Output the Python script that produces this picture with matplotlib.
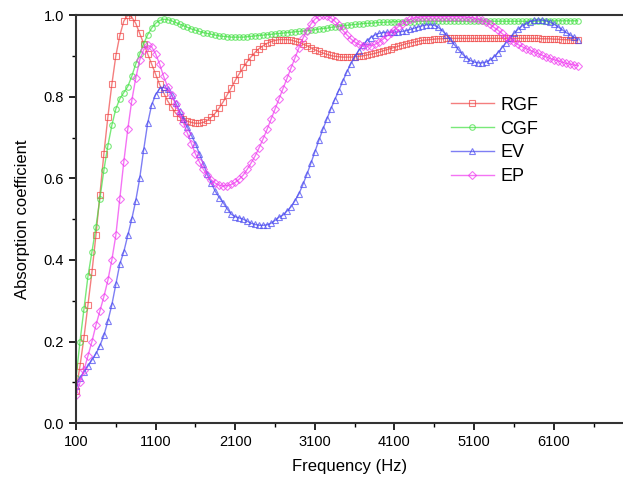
import matplotlib as mpl
import matplotlib.pyplot as plt
import numpy as np

mpl.rcParams['font.family'] = 'Liberation Sans'

# frequency (Hz), 50 Hz step from 100 to 6400
freq = np.arange(100, 6401, 50)

rgf = [0.08, 0.14, 0.21, 0.29, 0.37, 0.46, 0.56, 0.66, 0.75, 0.83,
       0.90, 0.95, 0.985, 1.0, 0.995, 0.98, 0.955, 0.93, 0.905, 0.88,
       0.855, 0.83, 0.81, 0.79, 0.775, 0.76, 0.75, 0.745, 0.74, 0.737,
       0.735, 0.735, 0.737, 0.742, 0.75, 0.76, 0.773, 0.788, 0.805, 0.822,
       0.84, 0.856, 0.872, 0.886, 0.898, 0.909, 0.918, 0.925, 0.931, 0.935,
       0.938, 0.94, 0.94, 0.94, 0.939, 0.936, 0.933, 0.929, 0.925, 0.92,
       0.915, 0.911, 0.907, 0.904, 0.901, 0.899, 0.898, 0.897, 0.897, 0.897,
       0.898, 0.899, 0.90, 0.902, 0.904, 0.906, 0.909, 0.912, 0.915, 0.918,
       0.921, 0.924, 0.927, 0.93, 0.932, 0.934, 0.936, 0.938, 0.939, 0.94,
       0.941, 0.942, 0.942, 0.943, 0.943, 0.943, 0.943, 0.943, 0.943, 0.943,
       0.943, 0.943, 0.943, 0.943, 0.943, 0.943, 0.943, 0.943, 0.943, 0.943,
       0.943, 0.943, 0.943, 0.943, 0.943, 0.943, 0.943, 0.942, 0.942, 0.942,
       0.941, 0.941, 0.94, 0.94, 0.939, 0.939, 0.938]

cgf = [0.11, 0.20, 0.28, 0.36, 0.42, 0.48, 0.55, 0.62, 0.68, 0.73,
       0.77, 0.795, 0.81, 0.825, 0.85, 0.88, 0.905, 0.93, 0.952, 0.968,
       0.98, 0.987, 0.99, 0.989, 0.986, 0.982, 0.978, 0.974, 0.97, 0.966,
       0.963, 0.96, 0.957, 0.955, 0.953, 0.951, 0.949, 0.948, 0.947, 0.946,
       0.946, 0.946, 0.946, 0.947, 0.948, 0.949, 0.95, 0.951, 0.952, 0.953,
       0.954, 0.955, 0.956, 0.957, 0.958, 0.959, 0.96, 0.961, 0.962, 0.963,
       0.964, 0.966, 0.967, 0.968, 0.97, 0.971, 0.972, 0.974, 0.975, 0.976,
       0.977, 0.978, 0.979, 0.98, 0.98, 0.981, 0.982, 0.982, 0.983, 0.983,
       0.984, 0.984, 0.984, 0.984, 0.984, 0.984, 0.985, 0.985, 0.985, 0.985,
       0.985, 0.985, 0.985, 0.985, 0.985, 0.985, 0.985, 0.985, 0.985, 0.985,
       0.985, 0.985, 0.985, 0.985, 0.985, 0.985, 0.985, 0.985, 0.985, 0.985,
       0.985, 0.985, 0.985, 0.985, 0.985, 0.985, 0.985, 0.986, 0.986, 0.986,
       0.986, 0.986, 0.986, 0.986, 0.986, 0.986, 0.986]

ev = [0.09, 0.11, 0.125, 0.14, 0.155, 0.17, 0.19, 0.215, 0.25, 0.29,
      0.34, 0.39, 0.42, 0.46, 0.50, 0.545, 0.60, 0.67, 0.735, 0.78,
      0.805, 0.82, 0.823, 0.818, 0.805, 0.785, 0.765, 0.745, 0.725, 0.705,
      0.685, 0.66, 0.635, 0.61, 0.588, 0.568, 0.553, 0.54, 0.525, 0.512,
      0.506, 0.503, 0.50, 0.495, 0.49, 0.487, 0.485, 0.485, 0.486, 0.49,
      0.497, 0.505, 0.51, 0.52, 0.53, 0.545, 0.562, 0.585, 0.61, 0.637,
      0.665, 0.693, 0.72, 0.745, 0.77, 0.793, 0.815, 0.838, 0.86, 0.88,
      0.898, 0.913, 0.926, 0.937, 0.945, 0.951, 0.955, 0.957, 0.958, 0.958,
      0.958, 0.959, 0.96, 0.962, 0.965, 0.968, 0.971, 0.974, 0.976, 0.976,
      0.975, 0.97, 0.962, 0.952, 0.94, 0.928, 0.916, 0.905, 0.896, 0.889,
      0.885, 0.883, 0.883, 0.885, 0.89, 0.898, 0.908, 0.92, 0.932, 0.944,
      0.955, 0.965, 0.973, 0.979, 0.984, 0.987, 0.988, 0.988, 0.986, 0.983,
      0.978, 0.972, 0.965, 0.958, 0.952, 0.946, 0.94]

ep = [0.07, 0.10, 0.13, 0.165, 0.20, 0.24, 0.275, 0.31, 0.35, 0.40,
      0.46, 0.55, 0.64, 0.72, 0.79, 0.845, 0.89, 0.915, 0.926, 0.922,
      0.905, 0.88, 0.85, 0.825, 0.805, 0.782, 0.76, 0.735, 0.71, 0.685,
      0.66, 0.64, 0.622, 0.607, 0.596, 0.588, 0.583, 0.581, 0.582, 0.585,
      0.59, 0.598, 0.608, 0.622, 0.638, 0.655, 0.675, 0.697, 0.72, 0.745,
      0.77, 0.795, 0.82, 0.845, 0.87, 0.895, 0.92, 0.943, 0.962, 0.978,
      0.99, 0.997, 1.0, 0.998, 0.993, 0.985, 0.975, 0.963, 0.952, 0.942,
      0.934, 0.928, 0.925, 0.924, 0.925, 0.928, 0.933, 0.94, 0.948, 0.956,
      0.964, 0.972, 0.979, 0.985, 0.99, 0.993, 0.995, 0.996, 0.996, 0.996,
      0.996, 0.996, 0.996, 0.996, 0.996, 0.996, 0.996, 0.996, 0.995, 0.994,
      0.993, 0.99, 0.988, 0.983, 0.977, 0.97, 0.963, 0.955, 0.947, 0.94,
      0.934, 0.928, 0.923, 0.918, 0.914, 0.91, 0.906, 0.902, 0.898, 0.894,
      0.891, 0.888, 0.885, 0.882, 0.88, 0.878, 0.876]

series = [
    ("RGF", rgf, '#f04848', 's'),
    ("CGF", cgf, '#40e040', 'o'),
    ("EV", ev, '#4848f0', '^'),
    ("EP", ep, '#f038f0', 'D'),
]

fig = plt.figure(figsize=(6.23, 4.87), dpi=100)
ax = fig.add_axes([0.122, 0.131, 0.878, 0.838])

for name, vals, col, mk in series:
    ax.plot(freq, vals, color=col, lw=1.0, marker=mk, markersize=4,
            markerfacecolor='none', markeredgewidth=0.8, alpha=0.7, label=name)

ax.set_xlim(100, 6970)
ax.set_ylim(0, 1.0)
ax.set_xticks(np.arange(100, 6200, 1000))
ax.set_xticks(np.arange(600, 6700, 1000), minor=True)
ax.set_yticks(np.arange(0, 1.01, 0.2))
ax.set_yticks(np.arange(0.1, 1.0, 0.2), minor=True)
ax.yaxis.set_major_formatter(mpl.ticker.FormatStrFormatter('%.1f'))
ax.tick_params(which='major', direction='out', length=5, width=1.2, labelsize=10.5)
ax.tick_params(which='minor', direction='out', length=3, width=1.0)
for s in ['left', 'bottom', 'top']:
    ax.spines[s].set_linewidth(1.5)
    ax.spines[s].set_color('#333333')
ax.spines['right'].set_visible(False)

ax.set_xlabel("Frequency (Hz)", fontsize=12, labelpad=7)
ax.set_ylabel("Absorption coefficient", fontsize=12, labelpad=10)

ax.legend(loc='upper left', bbox_to_anchor=(0.655, 0.84), frameon=False,
          fontsize=13, handlelength=2.4, labelspacing=0.38, handletextpad=0.35,
          markerscale=1.0)

fig.savefig("out.png", dpi=100)
